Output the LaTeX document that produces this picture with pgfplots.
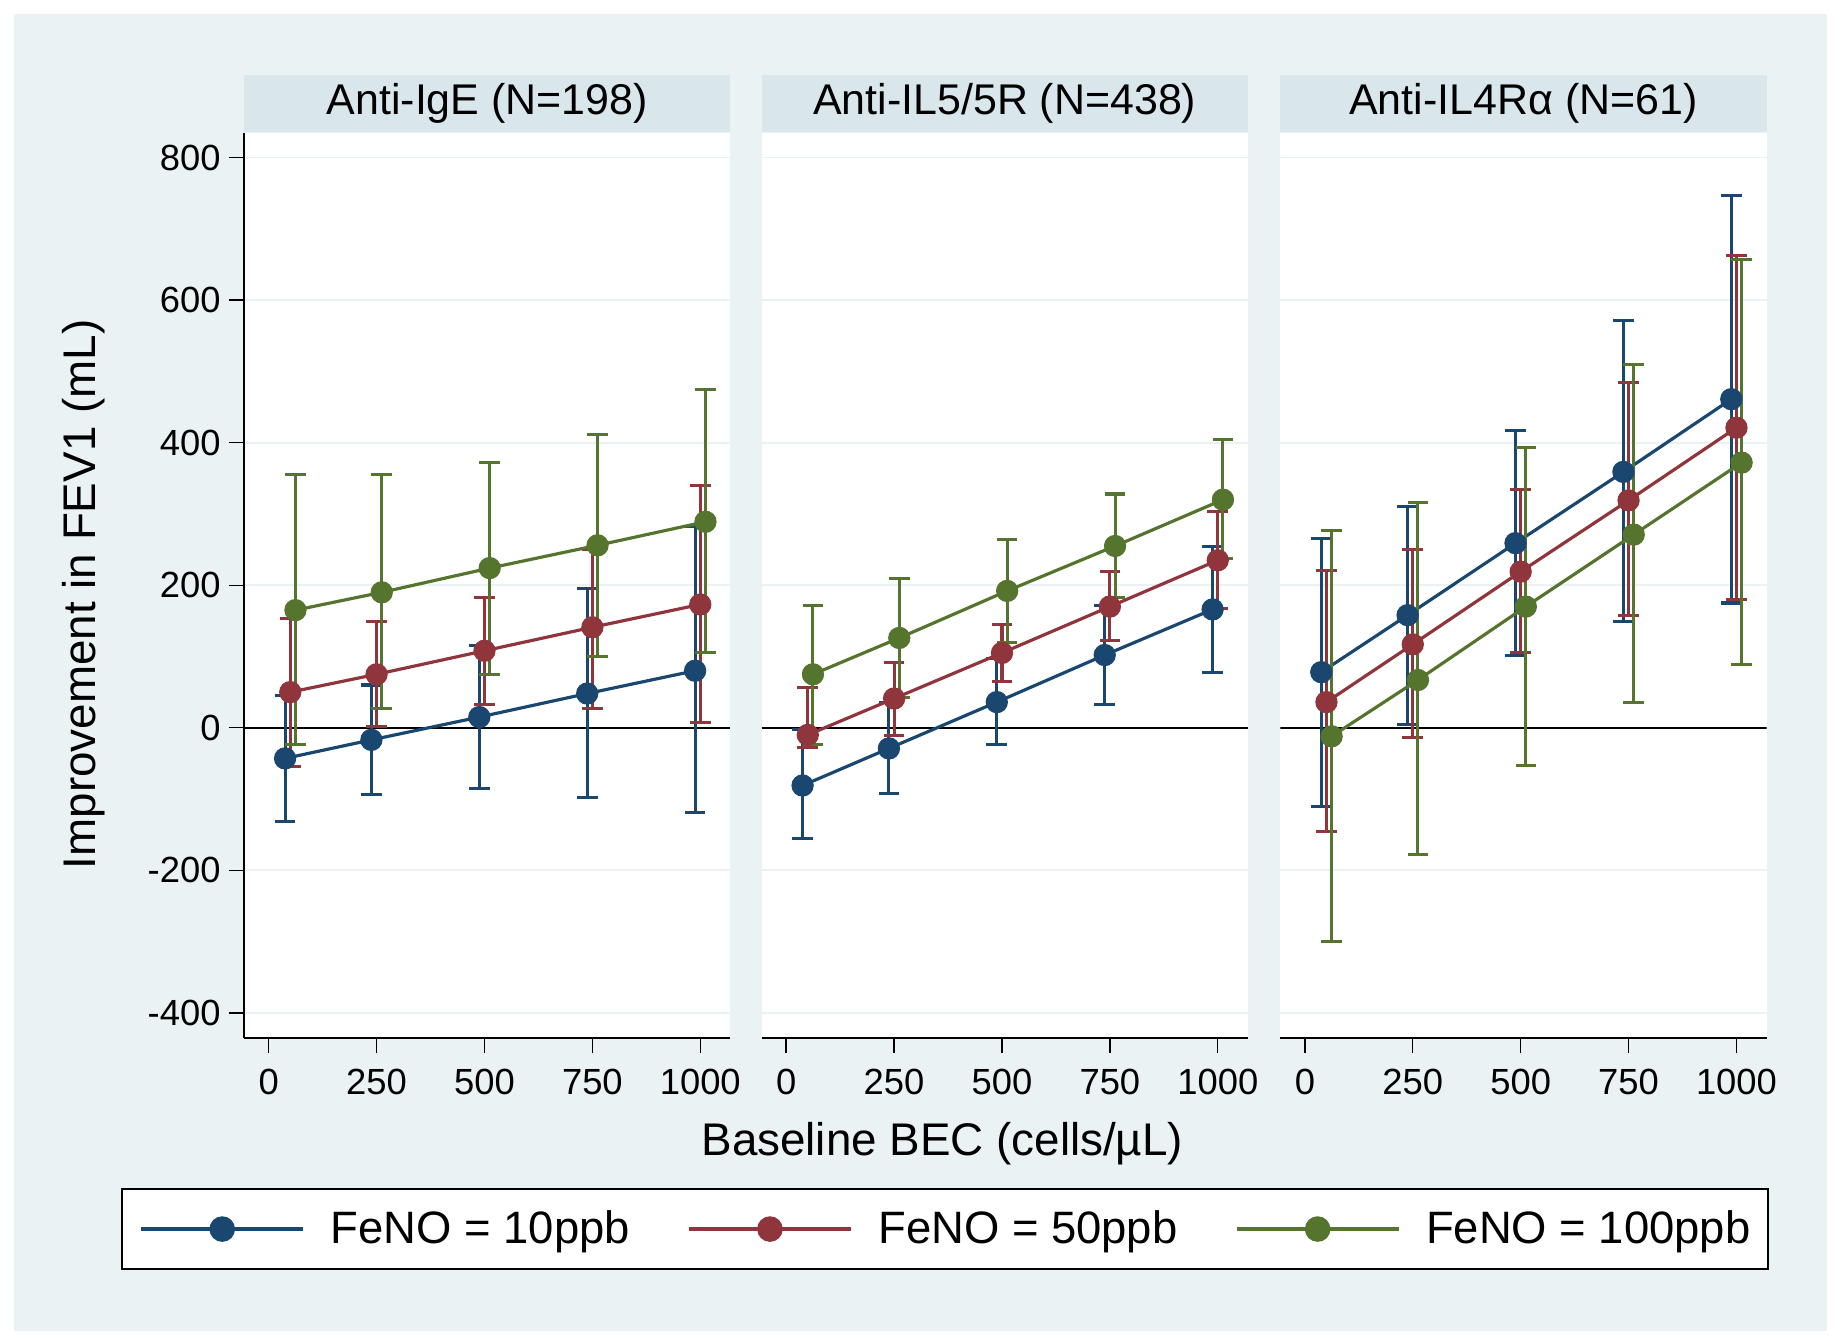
\documentclass[border=0pt]{standalone}
\usepackage{pgfplots}
\pgfplotsset{compat=1.18}
\usepackage{pgfplotstable}
\usepackage{fontspec}
\setmainfont{Liberation Sans}
\definecolor{navyc}{RGB}{26,71,111}
\definecolor{maroonc}{RGB}{144,53,59}
\definecolor{greenc}{RGB}{85,117,47}
\definecolor{bgc}{RGB}{234,242,243}
\definecolor{stripc}{RGB}{217,230,235}
\definecolor{gridc}{RGB}{234,242,243}

% Panel 1: Anti-IgE
\pgfplotstableread{
x y lo hi
38 -43 -132 45
238 -17 -94 60
488 15 -85 116
738 48 -98 195
988 80 -119 282
}\Aa
\pgfplotstableread{
x y lo hi
50 50 -54 153
250 75 2 149
500 108 33 183
750 141 27 250
1000 173 7 340
}\Ab
\pgfplotstableread{
x y lo hi
62 165 -24 355
262 190 27 355
512 224 75 372
762 256 100 412
1012 289 105 474
}\Ac
% Panel 2: Anti-IL5/5R
\pgfplotstableread{
x y lo hi
38 -81 -155 -3
238 -29 -92 35
488 36 -23 97
738 102 33 171
988 166 78 254
}\Ba
\pgfplotstableread{
x y lo hi
50 -10 -28 57
250 41 -11 92
500 105 65 145
750 170 122 219
1000 235 167 304
}\Bb
\pgfplotstableread{
x y lo hi
62 75 -24 172
262 126 42 210
512 192 120 264
762 255 183 328
1012 320 238 404
}\Bc
% Panel 3: Anti-IL4Ralpha
\pgfplotstableread{
x y lo hi
38 78 -110 265
238 158 5 311
488 259 101 417
738 359 149 572
988 461 175 747
}\Ca
\pgfplotstableread{
x y lo hi
50 36 -146 220
250 117 -13 250
500 219 105 334
750 319 157 484
1000 421 180 663
}\Cb
\pgfplotstableread{
x y lo hi
62 -12 -300 277
262 67 -178 316
512 170 -53 393
762 271 35 509
1012 372 89 657
}\Cc

\pgfplotsset{
  panel/.style={
    scale only axis, width=207.25pt, height=385.7pt, anchor=south west,
    xmin=-57, xmax=1070, ymin=-435, ymax=835,
    axis background/.style={fill=white},
    xtick={0,250,500,750,1000}, ytick={-400,-200,0,200,400,600,800},
    ymajorgrids, grid style={draw=gridc, line width=0.8pt},
    axis x line*=bottom, axis y line*=left,
    axis line style={-, line width=0.6pt, black},
    tick style={black, line width=0.6pt}, major tick length=6.5pt, tick align=outside,
    ticklabel style={font=\fontsize{15.5}{18}\selectfont},
    x tick label style={yshift=-3.5pt},
    /pgf/number format/assume math mode=true, /pgf/number format/1000 sep={},
    every axis title/.style={at={(0.5,1)}, anchor=south, fill=stripc,
      minimum width=207.25pt, minimum height=24.15pt, inner sep=0pt,
      font=\fontsize{18.3}{22}\selectfont},
  },
  noy/.style={y axis line style={draw=none}, ytick style={draw=none}, yticklabels={}},
  ser/.style={color=#1, line width=1.35pt, mark=*, mark size=4.5pt,
    mark options={solid, fill=#1, line width=0.5pt},
    /pgfplots/error bars/y dir=both, /pgfplots/error bars/y explicit,
    /pgfplots/error bars/error bar style={line width=1.3pt, color=#1},
    /pgfplots/error bars/error mark options={rotate=90, line width=1.3pt, mark size=4.4pt, color=#1}},
  table/tabopt/.style={x=x, y=y, y error plus expr=\thisrow{hi}-\thisrow{y}, y error minus expr=\thisrow{y}-\thisrow{lo}},
}

\begin{document}
\begin{tikzpicture}
\useasboundingbox (0,0) rectangle (784pt,570pt);
\fill[white] (0,0) rectangle (784pt,570pt);
\fill[bgc] (6pt,2.75pt) rectangle (778.5pt,564pt);

\begin{axis}[panel, at={(104pt,127.8pt)}, title={Anti-IgE (N=198)},
  legend columns=3, legend cell align=left,
  legend style={at={(-0.25332,-0.25681)}, anchor=south west, draw=black, line width=1pt, fill=white,
    inner xsep=7.5pt, inner ysep=9.3pt, column sep=11pt,
    /tikz/every even column/.append style={column sep=24.5pt},
    nodes={inner sep=0pt, font=\fontsize{19.35}{22}\selectfont}},
  legend image code/.code={\draw[mark repeat=2,mark phase=2,#1,line width=1.4pt,mark size=5.2pt] plot coordinates {(0pt,0pt) (34.5pt,0pt) (69pt,0pt)};},
]
\addplot[black, line width=0.7pt, forget plot] coordinates {(-57,0) (1070,0)};
\addplot[ser=navyc] table[tabopt] {\Aa};
\addplot[ser=maroonc] table[tabopt] {\Ab};
\addplot[ser=greenc] table[tabopt] {\Ac};
\legend{FeNO = 10ppb, FeNO = 50ppb, FeNO = 100ppb}
\end{axis}

\begin{axis}[panel, noy, at={(324.5pt,127.8pt)}, title={Anti-IL5/5R (N=438)}]
\addplot[black, line width=0.7pt, forget plot] coordinates {(-57,0) (1070,0)};
\addplot[ser=navyc] table[tabopt] {\Ba};
\addplot[ser=maroonc] table[tabopt] {\Bb};
\addplot[ser=greenc] table[tabopt] {\Bc};
\end{axis}

\begin{axis}[panel, noy, at={(545.5pt,127.8pt)}, title={Anti-IL4Rα (N=61)}]
\addplot[black, line width=0.7pt, forget plot] coordinates {(-57,0) (1070,0)};
\addplot[ser=navyc] table[tabopt] {\Ca};
\addplot[ser=maroonc] table[tabopt] {\Cb};
\addplot[ser=greenc] table[tabopt] {\Cc};
\end{axis}

\node[font=\fontsize{19.5}{23}\selectfont] at (401.5pt,82.5pt) {Baseline BEC (cells/µL)};
\node[rotate=90, font=\fontsize{19.5}{23}\selectfont] at (35.5pt,316.75pt) {Improvement in FEV1 (mL)};
\end{tikzpicture}
\end{document}
